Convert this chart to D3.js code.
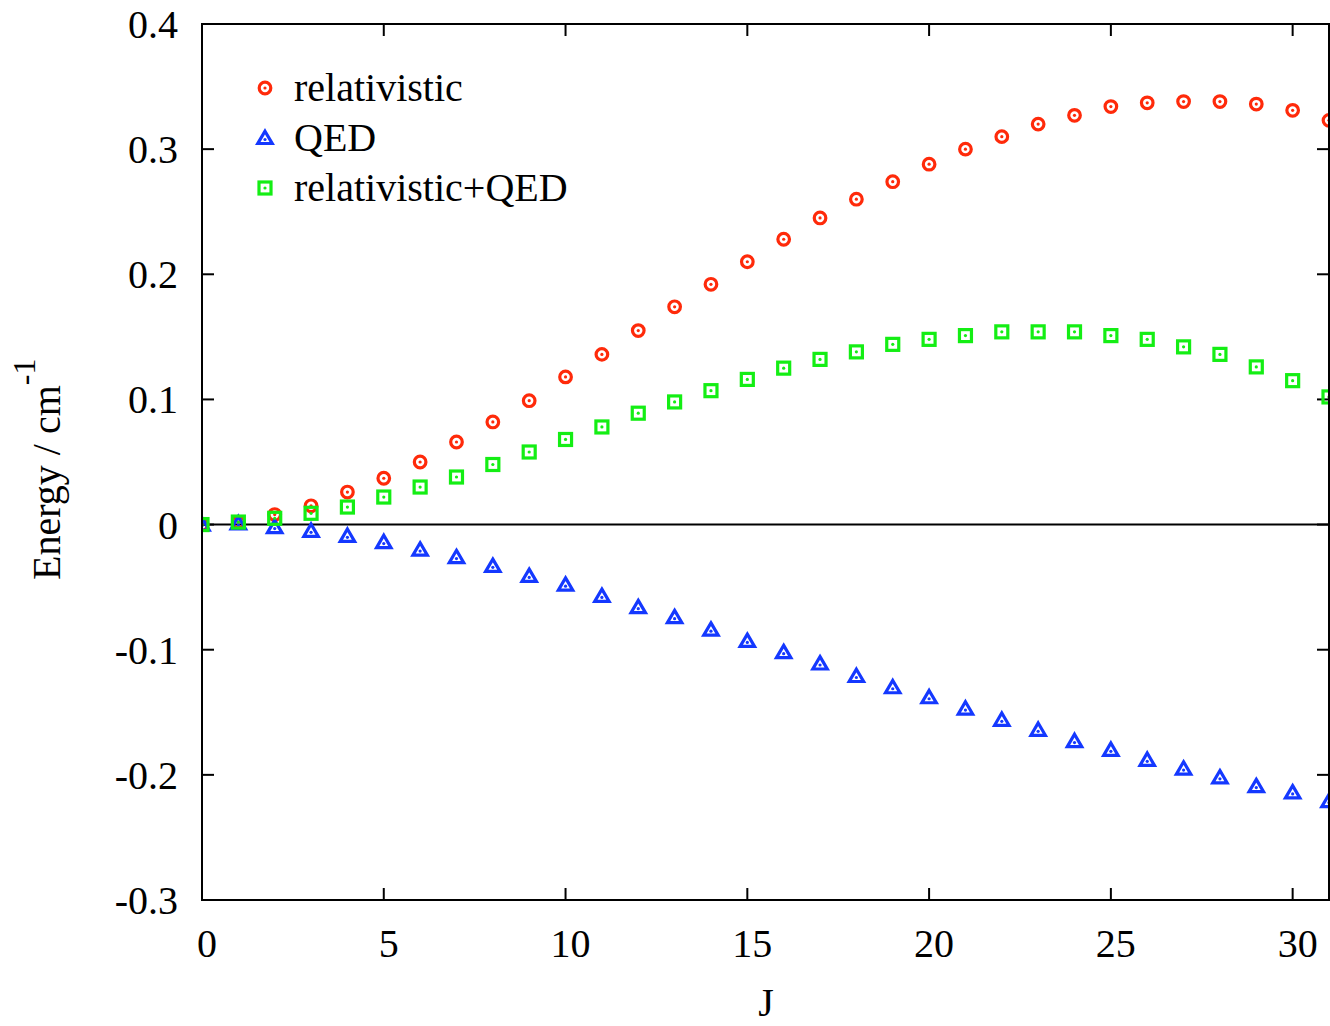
<!DOCTYPE html>
<html>
<head>
<meta charset="utf-8">
<script src="https://cdn.jsdelivr.net/npm/d3@7"></script>
<style>
  body { margin: 0; background: #fff; }
  text { font-family: "Liberation Serif", "Times New Roman", serif; fill: #000; }
</style>
</head>
<body>
<svg id="svg2" width="1330" height="1026"></svg>
<script>
// values
var J = [0,1,2,3,4,5,6,7,8,9,10,11,12,13,14,15,16,17,18,19,20,21,22,23,24,25,26,27,28,29,30,31];
var relativistic = [0,0.002,0.008,0.015,0.026,0.037,0.050,0.066,0.082,0.099,0.118,0.136,0.155,0.174,0.192,0.210,
    0.228,0.245,0.260,0.274,0.288,0.300,0.310,0.320,0.327,0.334,0.337,0.338,0.338,0.336,0.331,0.323];
var qed = [0,0.001,-0.002,-0.005,-0.009,-0.014,-0.020,-0.026,-0.033,-0.041,-0.048,-0.057,-0.066,-0.074,-0.084,-0.093,
    -0.102,-0.111,-0.121,-0.130,-0.138,-0.147,-0.156,-0.164,-0.173,-0.180,-0.188,-0.195,-0.202,-0.209,-0.214,-0.221];
var relQed = [0,0.002,0.005,0.009,0.014,0.022,0.030,0.038,0.048,0.058,0.068,0.078,0.089,0.098,0.107,0.116,
    0.125,0.132,0.138,0.144,0.148,0.151,0.154,0.154,0.154,0.151,0.148,0.142,0.136,0.126,0.115,0.102];
var seriesNames = ["relativistic", "QED", "relativistic+QED"];
var xTicks = [0,5,10,15,20,25,30];
var yTicks = [-0.3,-0.2,-0.1,0,0.1,0.2,0.3,0.4];

function main() {
    var svg2 = d3.select("#svg2");
    var left = 202, right = 1329, top = 24, bottom = 900;

    var xScale = d3.scaleLinear().domain([0, 31]).range([left, right]),
        yScale = d3.scaleLinear().domain([-0.3, 0.4]).range([bottom, top]);

    var colors = ["#ff2a0a", "#1438ff", "#14ee14"];
    var shapes = ["circle", "triangle", "square"];
    var allData = [relativistic, qed, relQed];

    svg2.append("defs").append("clipPath").attr("id", "plotclip")
        .append("rect")
        .attr("x", left).attr("y", top)
        .attr("width", right - left).attr("height", bottom - top);

    // zero line
    svg2.append("line")
        .attr("x1", left).attr("x2", right)
        .attr("y1", yScale(0)).attr("y2", yScale(0))
        .attr("stroke", "#000").attr("stroke-width", 2);

    // ticks on all four sides, pointing in
    var tl = 12;
    var g = svg2.append("g").attr("stroke", "#000").attr("stroke-width", 2);
    xTicks.forEach(function(t) {
        g.append("line").attr("x1", xScale(t)).attr("x2", xScale(t)).attr("y1", bottom).attr("y2", bottom - tl);
        g.append("line").attr("x1", xScale(t)).attr("x2", xScale(t)).attr("y1", top).attr("y2", top + tl);
    });
    yTicks.forEach(function(t) {
        g.append("line").attr("x1", left).attr("x2", left + tl).attr("y1", yScale(t)).attr("y2", yScale(t));
        g.append("line").attr("x1", right).attr("x2", right - tl).attr("y1", yScale(t)).attr("y2", yScale(t));
    });

    // tick labels
    svg2.selectAll(".xlab").data(xTicks).enter().append("text")
        .attr("class", "xlab")
        .attr("x", function(d) { return xScale(d) + 5; })
        .attr("y", 957)
        .attr("text-anchor", "middle")
        .attr("font-size", 40)
        .text(function(d) { return d; });

    svg2.selectAll(".ylab").data(yTicks).enter().append("text")
        .attr("class", "ylab")
        .attr("x", 178)
        .attr("y", function(d) { return yScale(d) + 14; })
        .attr("text-anchor", "end")
        .attr("font-size", 40)
        .text(function(d) { return d === 0 ? "0" : d.toFixed(1); });

    // axis titles
    svg2.append("text")
        .attr("x", 766).attr("y", 1016)
        .attr("text-anchor", "middle")
        .attr("font-size", 40)
        .text("J");

    var yl = svg2.append("text")
        .attr("transform", "translate(60,580) rotate(-90)")
        .attr("font-size", 40);
    yl.append("tspan").text("Energy / cm");
    yl.append("tspan").attr("dy", -25).attr("font-size", 32).text("-1");

    // markers
    function drawMarker(sel, shape, color) {
        if (shape === "circle") {
            sel.append("circle").attr("r", 5.8).attr("fill", "none")
                .attr("stroke", color).attr("stroke-width", 3.2);
        } else if (shape === "triangle") {
            sel.append("path").attr("d", "M0,-6.8L7.2,5.5L-7.2,5.5Z").attr("fill", "none")
                .attr("stroke", color).attr("stroke-width", 3.2).attr("stroke-linejoin", "miter");
        } else {
            sel.append("rect").attr("x", -6).attr("y", -6).attr("width", 12).attr("height", 12)
                .attr("fill", "none").attr("stroke", color).attr("stroke-width", 3.2);
        }
        sel.append("circle").attr("r", 1.6).attr("cy", shape === "triangle" ? 1.5 : 0).attr("fill", color);
    }

    var plot = svg2.append("g").attr("clip-path", "url(#plotclip)");
    allData.forEach(function(vals, i) {
        plot.append("g").selectAll("g")
            .data(vals)
            .enter().append("g")
            .attr("transform", function(d, k) {
                return "translate(" + xScale(J[k]) + "," + yScale(d) + ")";
            })
            .each(function() { drawMarker(d3.select(this), shapes[i], colors[i]); });
    });

    // border
    svg2.append("rect")
        .attr("x", left).attr("y", top)
        .attr("width", right - left).attr("height", bottom - top)
        .attr("fill", "none").attr("stroke", "#000").attr("stroke-width", 2);

    // legend
    seriesNames.forEach(function(name, i) {
        var y = 88 + i * 50;
        var m = svg2.append("g").attr("transform", "translate(265," + y + ")");
        drawMarker(m, shapes[i], colors[i]);
        svg2.append("text")
            .attr("x", 294).attr("y", y + 13)
            .attr("font-size", 40)
            .text(name);
    });
}
main();
</script>
</body>
</html>
